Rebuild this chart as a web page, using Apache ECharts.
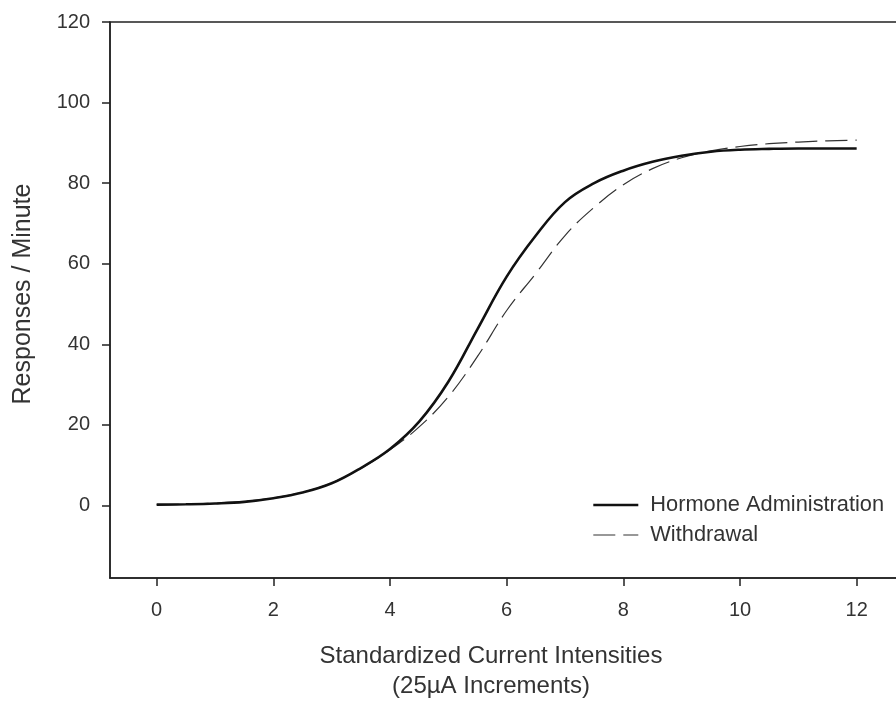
<!DOCTYPE html>
<html>
<head>
<meta charset="utf-8">
<script src="https://cdn.jsdelivr.net/npm/echarts@6/dist/echarts.min.js"></script>
<style>
html,body{margin:0;padding:0;background:#fff;}
#c{width:896px;height:703px;}
</style>
</head>
<body>
<div id="c"></div>
<script>
var intensities = [0,0.5,1,1.5,2,2.5,3,3.5,4,4.5,5,5.5,6,6.5,7,7.5,8,8.5,9,9.5,10,10.5,11,11.5,12];
var hormone = [0.2,0.3,0.5,0.9,1.8,3.2,5.5,9.3,14,20.8,30.7,43.8,56.8,67,75.3,80,83.1,85.3,86.8,87.8,88.3,88.5,88.6,88.6,88.6];
var withdrawal = [0.2,0.3,0.6,1.0,1.9,3.3,5.6,9.2,13.8,19.5,27,37,48.4,57.6,67,74,79.6,83.6,86.3,88,89.1,89.8,90.2,90.5,90.7];
var xTicks = [0,2,4,6,8,10,12];
var yTicks = [0,20,40,60,80,100,120];
var xTitle = ['Standardized Current Intensities','(25\u00B5A Increments)'];
var yTitle = 'Responses / Minute';
var seriesNames = ['Hormone Administration','Withdrawal'];

function pairs(xs, ys){ return xs.map(function(x,i){ return [x, ys[i]]; }); }

var font = '"Liberation Sans", Arial, sans-serif';
var axisColor = '#222';
var textColor = '#333';

var chart = echarts.init(document.getElementById('c'));
chart.setOption({
  animation: false,
  backgroundColor: '#fff',
  grid: {
    left: 110, top: 22, bottom: 125, right: -19,
    show: true, borderColor: axisColor, borderWidth: 1.5,
    outerBoundsMode: 'none', containLabel: false
  },
  xAxis: {
    type: 'value', min: -0.8, max: 13,
    axisLine: {show: true, onZero: false, lineStyle: {color: axisColor, width: 1.5}},
    axisTick: {show: true, length: 8, inside: false, customValues: xTicks, lineStyle: {color: axisColor, width: 1.5}},
    axisLabel: {customValues: xTicks, margin: 22, fontSize: 20, color: textColor, fontFamily: font},
    splitLine: {show: false}
  },
  yAxis: {
    type: 'value', min: -18, max: 120,
    axisLine: {show: true, onZero: false, lineStyle: {color: axisColor, width: 1.5}},
    axisTick: {show: true, length: 8, inside: false, customValues: yTicks, lineStyle: {color: axisColor, width: 1.5}},
    axisLabel: {customValues: yTicks, margin: 20, fontSize: 20, color: textColor, fontFamily: font},
    splitLine: {show: false}
  },
  legend: {
    orient: 'vertical', left: 592, top: 494, padding: 0,
    itemWidth: 45, itemHeight: 14, itemGap: 8,
    itemStyle: {opacity: 0},
    textStyle: {fontSize: 21.8, color: textColor, fontFamily: font, padding: [0,0,0,7]},
    data: [
      {name: seriesNames[0], lineStyle: {width: 2.6, color: '#111'}},
      {name: seriesNames[1], lineStyle: {width: 1.2, color: '#333'}}
    ]
  },
  graphic: [
    {type: 'text', x: 491, y: 656, style: {text: xTitle[0], fill: textColor, font: '24px ' + font, textAlign: 'center', textVerticalAlign: 'middle'}},
    {type: 'text', x: 491, y: 686, style: {text: xTitle[1], fill: textColor, font: '24px ' + font, textAlign: 'center', textVerticalAlign: 'middle'}},
    {type: 'text', x: 23, y: 294, rotation: Math.PI/2, style: {text: yTitle, fill: textColor, font: '25px ' + font, textAlign: 'center', textVerticalAlign: 'middle'}}
  ],
  series: [
    {
      name: seriesNames[1], type: 'line', smooth: 0.4, symbol: 'none', z: 2,
      data: pairs(intensities, withdrawal),
      lineStyle: {color: '#333', width: 1.2, type: [22, 8]},
      itemStyle: {color: '#333'}
    },
    {
      name: seriesNames[0], type: 'line', smooth: 0.4, symbol: 'none', z: 3,
      data: pairs(intensities, hormone),
      lineStyle: {color: '#111', width: 2.6},
      itemStyle: {color: '#111'}
    }
  ]
});
</script>
</body>
</html>
